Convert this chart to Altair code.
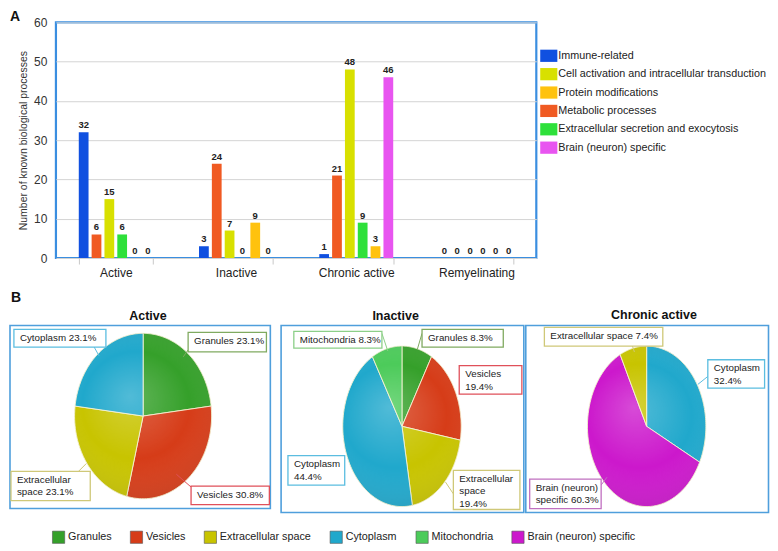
import altair as alt
import pandas as pd

# ---------------- Panel A data ----------------
lesions = ["Active", "Inactive", "Chronic active", "Remyelinating"]
process_names = [
    "Immune-related",
    "Cell activation and intracellular transduction",
    "Protein modifications",
    "Metabolic processes",
    "Extracellular secretion and exocytosis",
    "Brain (neuron) specific",
]
process_colors = ["#1050e0", "#d8e000", "#ffc20e", "#f05a22", "#2ee03a", "#e855f0"]
bar_order = [
    "Immune-related",
    "Metabolic processes",
    "Cell activation and intracellular transduction",
    "Extracellular secretion and exocytosis",
    "Protein modifications",
    "Brain (neuron) specific",
]
immune_related = [32, 3, 1, 0]
cell_activation = [15, 7, 48, 0]
protein_modifications = [0, 9, 3, 0]
metabolic_processes = [6, 24, 21, 0]
extracellular_secretion = [6, 0, 9, 0]
brain_specific = [0, 0, 46, 0]

# ---------------- Panel B data ----------------
compartments = ["Granules", "Vesicles", "Extracellular space", "Cytoplasm",
                "Mitochondria", "Brain (neuron) specific"]
compartment_colors = ["#35a02a", "#d63c18", "#c8c400", "#20a8cc", "#4ccb5a", "#cc18cc"]
compartment_borders = ["#80aa60", "#e0505a", "#cfc878", "#5bbde0", "#8ccf88", "#c070c0"]

pie_panels = ["Active", "Inactive", "Chronic active"]
active_parts = ["Granules", "Vesicles", "Extracellular space", "Cytoplasm"]
active_pct = [23.1, 30.8, 23.1, 23.1]
inactive_parts = ["Granules", "Vesicles", "Extracellular space", "Cytoplasm", "Mitochondria"]
inactive_pct = [8.3, 19.4, 19.4, 44.4, 8.3]
chronic_parts = ["Cytoplasm", "Brain (neuron) specific", "Extracellular space"]
chronic_pct = [32.4, 60.3, 7.4]

FONT = "Liberation Sans"

# ---------------- Panel A chart ----------------
series = {
    "Immune-related": immune_related,
    "Cell activation and intracellular transduction": cell_activation,
    "Protein modifications": protein_modifications,
    "Metabolic processes": metabolic_processes,
    "Extracellular secretion and exocytosis": extracellular_secretion,
    "Brain (neuron) specific": brain_specific,
}
rows = []
for p, vals in series.items():
    for les, v in zip(lesions, vals):
        rows.append({"lesion": les, "process": p, "count": v})
bars_df = pd.DataFrame(rows)

x_enc = alt.X(
    "lesion:N", sort=lesions, title=None,
    scale=alt.Scale(paddingInner=0.385, paddingOuter=0.19),
    axis=alt.Axis(labelAngle=0, tickBand="extent", domain=False, ticks=True, tickSize=6,
                  tickColor="#c8c8c8", labelFontSize=12, labelColor="#222", labelPadding=3,
                  grid=False, labelFont=FONT),
)
xoff_enc = alt.XOffset("process:N", sort=bar_order, scale=alt.Scale(paddingInner=0.24))
y_enc = alt.Y(
    "count:Q", scale=alt.Scale(domain=[0, 60], nice=False),
    axis=alt.Axis(values=[0, 10, 20, 30, 40, 50, 60], title="Number of known biological processes",
                  titleFontSize=10.5, titleFontWeight="normal", titleColor="#333", titleFont=FONT,
                  labelFontSize=12, labelColor="#333", labelFont=FONT, ticks=False, domain=False,
                  gridColor="#d4d4d4", labelPadding=9, titlePadding=5),
)

bar_base = alt.Chart(bars_df)
bars = bar_base.mark_bar().encode(
    x=x_enc, xOffset=xoff_enc, y=y_enc,
    color=alt.Color(
        "process:N", scale=alt.Scale(domain=process_names, range=process_colors),
        legend=alt.Legend(title=" ", titleFontSize=12, titlePadding=15, orient="right", offset=6,
                          symbolType="M-1.4,-1H1.4V1H-1.4Z", symbolSize=150,
                          symbolStrokeWidth=0, labelFontSize=10.8, labelFont=FONT,
                          labelColor="#222", rowPadding=5.4, labelOffset=3, labelLimit=400),
    ),
)
bar_labels = bar_base.mark_text(dy=-7, fontSize=9.5, fontWeight="bold", font=FONT,
                                color="#222").encode(
    x=x_enc, xOffset=xoff_enc, y=y_enc, text=alt.Text("count:Q"),
)
letter_a = alt.Chart(pd.DataFrame({"t": ["A"]})).mark_text(
    fontSize=14, fontWeight="bold", font=FONT, align="left", baseline="middle", color="#111"
).encode(x=alt.value(-46), y=alt.value(-5), text="t:N")

panel_a = alt.layer(bars, bar_labels, letter_a).properties(
    width=481, height=236,
    view=alt.ViewBackground(stroke="#3a8ee0", strokeWidth=2.2),
)

# ---------------- Panel B (one layered view holding the three pies) ----------------
FX, FY = 0.980, 0.98     # reference -> page compression
OX, OY = 54, 288         # page position of this view's origin
BW, BH = 714, 230


def rx_(x):
    return 8 + (x - 2) * FX - OX


def ry_(y):
    return 8 + (y - 4) * FY - OY


# layout (reference pixel positions)
pie_geom = {"Active": (138, 417.5, 70, 84.5),
            "Inactive": (402.5, 428, 60.5, 82),
            "Chronic active": (652.5, 428, 60.5, 82)}
panel_box = {"Active": (2, 325, 268, 512),
             "Inactive": (279, 325, 527, 516),
             "Chronic active": (529, 325, 777, 516)}
title_pos = {"Active": (143, 315), "Inactive": (396, 315), "Chronic active": (660, 314)}

slice_rows = []
for panel, parts, pcts in [("Active", active_parts, active_pct),
                           ("Inactive", inactive_parts, inactive_pct),
                           ("Chronic active", chronic_parts, chronic_pct)]:
    cx, cy, ex, ey = pie_geom[panel]
    for k, (part, pct) in enumerate(zip(parts, pcts)):
        slice_rows.append({"panel": panel, "part": part, "pct": pct, "k": k,
                           "key": panel + "|" + part,
                           "cx": rx_(cx), "cy": ry_(cy), "ex": ex * FX, "ey": ey * FY})
slices_df = pd.DataFrame(slice_rows)
whole_df = pd.DataFrame([{"panel": p, "part": "all", "pct": 100.0, "k": 0, "key": p,
                          "cx": rx_(pie_geom[p][0]), "cy": ry_(pie_geom[p][1]),
                          "ex": pie_geom[p][2] * FX, "ey": pie_geom[p][3] * FY}
                         for p in pie_panels])

xs = alt.Scale(domain=[0, BW], nice=False, zero=False)
ys = alt.Scale(domain=[0, BH], nice=False, zero=False, reverse=True)


def X(f):
    return alt.X(f, type="quantitative", scale=xs, axis=None)


def Y(f):
    return alt.Y(f, type="quantitative", scale=ys, axis=None)


def ellipse_points(chart, N):
    return chart.transform_joinaggregate(
        total="sum(pct)", groupby=["panel"]
    ).transform_window(
        cum="sum(pct)", sort=[alt.SortField("k", order="ascending")], groupby=["panel"],
        frame=[None, 0]
    ).transform_calculate(
        f0="(datum.cum - datum.pct) / datum.total",
        f1="datum.cum / datum.total",
        pts=f"sequence(-1, {N + 2})",
    ).transform_flatten(["pts"]).transform_calculate(
        frac=f"datum.f0 + (datum.f1 - datum.f0) * clamp(datum.pts, 0, {N}) / {N}",
        rr=f"(datum.pts < 0 || datum.pts > {N}) ? 0 : 1",
    ).transform_calculate(
        px="datum.cx + datum.rr * datum.ex * sin(2 * PI * datum.frac)",
        py="datum.cy - datum.rr * datum.ey * cos(2 * PI * datum.frac)",
    )


pie_legend = alt.Legend(title=None, orient="none", direction="horizontal",
                        legendX=rx_(45), legendY=240,
                        symbolType="square", symbolSize=150,
                        symbolStrokeColor="#555", symbolStrokeWidth=0.6, labelFontSize=10.8,
                        labelFont=FONT, labelColor="#222", columnPadding=17, labelOffset=3)

fill_scale = alt.Scale(domain=compartments, range=compartment_colors)
stroke_scale = alt.Scale(domain=compartments, range=compartment_borders)

shade = alt.RadialGradient(
    gradient="radial", x1=0.42, y1=0.38, r1=0, x2=0.5, y2=0.5, r2=0.72,
    stops=[alt.GradientStop(offset=0, color="rgba(255,255,255,0.22)"),
           alt.GradientStop(offset=0.45, color="rgba(255,255,255,0.0)"),
           alt.GradientStop(offset=1, color="rgba(0,0,0,0.22)")],
)

boxes_df = pd.DataFrame([{"panel": p, "x0": rx_(b[0]), "y0": ry_(b[1]),
                          "x1": rx_(b[2]), "y1": ry_(b[3])} for p, b in panel_box.items()])
titles_df = pd.DataFrame([{"panel": p, "tx": rx_(t[0]), "ty": ry_(t[1])}
                          for p, t in title_pos.items()])
letter_df = pd.DataFrame([{"t": "B", "tx": rx_(3), "ty": ry_(297)}])

ann = [
    ("Cytoplasm", f"Cytoplasm {active_pct[3]}%", 6, 329, 100, 347, 88, 347, 93, 356),
    ("Granules", f"Granules {active_pct[0]}%", 184, 332, 264, 352, 184, 350, 179, 357),
    ("Extracellular space", f"Extracellular\nspace {active_pct[2]}%", 3, 474, 84, 504, 72, 474, 80, 466),
    ("Vesicles", f"Vesicles {active_pct[1]}%", 187, 489, 267, 508, 187, 490, 172, 477),
    ("Mitochondria", f"Mitochondria {inactive_pct[4]}%", 292, 331, 382, 348, 382, 333, 388, 351),
    ("Granules", f"Granules {inactive_pct[0]}%", 423, 329, 506, 347, 423, 333, 418, 350),
    ("Vesicles", f"Vesicles\n{inactive_pct[1]}%", 461, 366, 525, 395, 461, 375, 461, 375),
    ("Cytoplasm", f"Cytoplasm\n{inactive_pct[3]}%", 286, 458, 344, 488, 344, 465, 344, 465),
    ("Extracellular space", f"Extracellular\nspace\n{inactive_pct[2]}%", 455, 473, 523, 513, 455, 497, 447, 485),
    ("Extracellular space", f"Extracellular space {chronic_pct[2]}%", 548, 327, 669, 346, 638, 346, 640, 352),
    ("Cytoplasm", f"Cytoplasm\n{chronic_pct[0]}%", 715, 360, 773, 389, 715, 377, 705, 385),
    ("Brain (neuron) specific", f"Brain (neuron)\nspecific {chronic_pct[1]}%", 533, 482, 606, 512, 606, 488, 612, 480),
]
ann_df = pd.DataFrame(ann, columns=["part", "label", "x0", "y0", "x1", "y1",
                                    "lx1", "ly1", "lx2", "ly2"])
for c in ["x0", "x1", "lx1", "lx2"]:
    ann_df[c] = ann_df[c].map(rx_)
for c in ["y0", "y1", "ly1", "ly2"]:
    ann_df[c] = ann_df[c].map(ry_)
ann_df["tx"] = ann_df["x0"] + 6
ann_df["ty"] = ann_df["y0"] + 3.5

panel_frames = alt.Chart(boxes_df).mark_rect(fill="white", stroke="#4f9fdc", strokeWidth=1.6).encode(
    x=X("x0"), x2="x1", y=Y("y0"), y2="y1")
panel_titles = alt.Chart(titles_df).mark_text(
    fontSize=12.5, fontWeight="bold", font=FONT, color="#111", baseline="middle"
).encode(x=X("tx"), y=Y("ty"), text="panel:N")
letter_b = alt.Chart(letter_df).mark_text(
    fontSize=14, fontWeight="bold", font=FONT, color="#111", align="left", baseline="middle"
).encode(x=X("tx"), y=Y("ty"), text="t:N")

slices = ellipse_points(alt.Chart(slices_df), 80).mark_line(
    stroke="#f4f0d0", strokeWidth=0.9, strokeJoin="round"
).encode(
    x=X("px"), y=Y("py"), order=alt.Order("pts:Q"), detail="key:N",
    fill=alt.Fill("part:N", scale=fill_scale, legend=pie_legend),
)
shading = ellipse_points(alt.Chart(whole_df), 160).transform_filter(
    "datum.pts >= 0 && datum.pts <= 160"
).mark_line(fill=shade, strokeWidth=0).encode(
    x=X("px"), y=Y("py"), order=alt.Order("pts:Q"), detail="key:N",
)
leaders = alt.Chart(ann_df).mark_rule(strokeWidth=1).encode(
    x=X("lx1"), y=Y("ly1"), x2="lx2", y2="ly2",
    stroke=alt.Stroke("part:N", scale=stroke_scale, legend=None),
)
label_boxes = alt.Chart(ann_df).mark_rect(fill="white", strokeWidth=1.3).encode(
    x=X("x0"), x2="x1", y=Y("y0"), y2="y1",
    stroke=alt.Stroke("part:N", scale=stroke_scale, legend=None),
)
label_texts = alt.Chart(ann_df).mark_text(
    align="left", baseline="top", lineBreak="\n", fontSize=9.8, font=FONT,
    color="#222", lineHeight=12.5
).encode(x=X("tx"), y=Y("ty"), text="label:N")

panel_b = alt.layer(
    panel_frames, panel_titles, letter_b, slices, shading, leaders, label_boxes, label_texts
).properties(width=BW, height=BH, view=alt.ViewBackground(stroke=None))

chart = alt.concat(panel_a, panel_b, columns=1, spacing=11).properties(
    padding=0
).resolve_legend(
    color="independent", fill="independent"
).configure(font=FONT).configure_view(stroke=None)

chart.save("out.html", embed_options={"renderer": "svg", "actions": False})
